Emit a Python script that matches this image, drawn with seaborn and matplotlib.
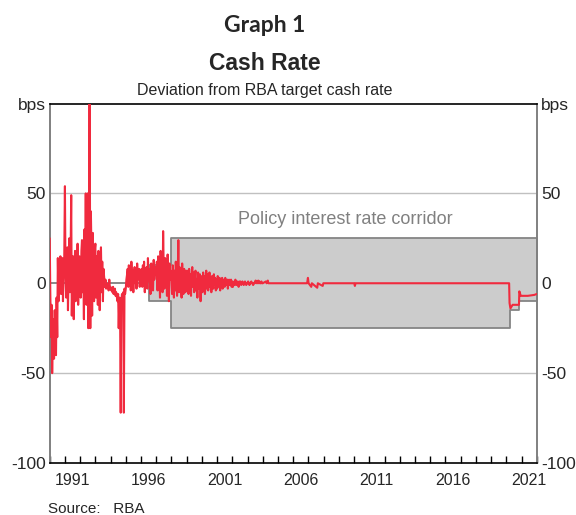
import numpy as np
import pandas as pd
import matplotlib
matplotlib.use("Agg")
import matplotlib.pyplot as plt
import matplotlib.dates as mdates
import matplotlib.ticker as mticker
import seaborn as sns

# deviation of cash rate from target (bps), semi-monthly readings 1990-2003
dev_1990 = [25, -5, -30, -12, -50, -28, -20, -42, -15, -35, -40, -8, -30, 14, -10, 12, 3, 15, -6, 8, 14, -10, 5, 12]
dev_1991 = [54, 5, -8, 12, 20, -15, 8, 25, -5, 10, 49, -18, 6, 15, -20, 3, 18, -10, 12, 0, 22, -12, 8, 15]
dev_1992 = [10, -8, 18, 24, -5, 12, -20, 30, 8, 50, -12, 20, 50, -25, 35, 130, -25, 40, 15, -18, 28, 5, -10, 18]
dev_1993 = [22, -8, 15, 5, -12, 18, 2, -15, 10, 20, -5, 12, -10, 8, 3, -2, 2, -3, 0, -2, -1, -4, 2, -3]
dev_1994 = [-2, -4, -3, -5, -2, -6, -4, -3, -7, -5, -8, -10, -6, -25, -8, -9, -72, -10, -6, -8, -5, -72, -3, -6]
dev_1995 = [-3, 2, 5, 8, -2, 10, 3, 6, -4, 12, 2, 7, -5, 4, 9, 0, 6, -3, 11, 2, 5, 8, -2, 6]
dev_1996 = [4, 8, -2, 10, 3, 12, -5, 6, 2, 9, -3, 14, 5, 1, 8, -6, 11, 3, 7, -4, 13, 2, 6, 9]
dev_1997 = [5, 12, -4, 15, 2, 8, -8, 18, 3, 10, -5, 29, 6, -3, 14, 1, 9, -7, 16, 4, -10, 11, 2, 7]
dev_1998 = [3, -6, 10, 2, -8, 7, -4, 12, 1, -7, 5, 24, -5, 9, -3, 6, -8, 11, 0, -6, 8, 3, -5, 7]
dev_1999 = [-4, 7, 2, -6, 8, -3, 5, -7, 4, 9, -2, 6, -5, 3, 7, -4, 2, -8, 6, 1, -3, 5, -10, 4]
dev_2000 = [3, -5, 6, -2, 4, -6, 2, 7, -3, 5, -4, 1, 6, -2, 3, -5, 4, 0, -3, 5, -1, 3, -4, 2]
dev_2001 = [-3, 4, 1, -2, 3, -4, 2, 0, 3, -3, 1, 2, -2, 3, -1, 0, 2, -3, 1, 2, -1, 0, 2, -2]
dev_2002 = [1, -2, 0, 1, -1, 2, 0, -1, 1, 0, -2, 1, 0, 1, -1, 0, 1, 0, -1, 0, 1, 0, -1, 0]
dev_2003 = [0, 1, 0, -1, 0, 0, 1, 0, 0, -1, 0, 0, 1, 1.5, 0, 1, 0, 1.5, 0, 1, 0, 0, 1, 0]

# later period: mostly flat, only the turning points
flat_dates = ["2004-01-01", "2004-03-15", "2004-04-01", "2004-05-01", "2004-05-15", "2004-06-01",
              "2006-12-01", "2006-12-20", "2007-01-05", "2007-03-10", "2007-03-25", "2007-08-01",
              "2007-08-15", "2007-12-10", "2007-12-25", "2010-01-05", "2010-01-20", "2010-02-05",
              "2020-03-10", "2020-03-20", "2020-04-10", "2020-06-01", "2020-11-01", "2020-11-10",
              "2020-12-15", "2021-06-01", "2021-11-01", "2021-12-31"]
flat_values = [0, 1, 0, 1.5, 0, 0,
               0, 3, 0, -2, 0, -2.5,
               0, -1.5, 0, 0, -1.5, 0,
               0, -11, -14, -12, -12, -4.5,
               -7, -7, -6.5, -6]

# policy interest rate corridor
corr_dates = ["1996-07-01", "1998-01-01", "2020-03-19", "2020-11-04", "2022-01-01"]
corr_upper = [10, 25, 25, 25, 25]
corr_lower = [-10, -25, -15, -10, -10]

label_years = [1991, 1996, 2001, 2006, 2011, 2016, 2021]

noisy = (dev_1990 + dev_1991 + dev_1992 + dev_1993 + dev_1994 + dev_1995 + dev_1996
         + dev_1997 + dev_1998 + dev_1999 + dev_2000 + dev_2001 + dev_2002 + dev_2003)
noisy_dates = pd.date_range("1990-01-01", "2003-12-31", freq="SMS")
df = pd.DataFrame({
    "date": list(noisy_dates) + list(pd.to_datetime(flat_dates)),
    "bps": noisy + flat_values,
})
corr = pd.DataFrame({"date": pd.to_datetime(corr_dates), "upper": corr_upper, "lower": corr_lower})

sns.set_style("white")
plt.rcParams["font.family"] = ["Liberation Sans", "DejaVu Sans"]

fig = plt.figure(figsize=(5.76, 5.15), dpi=100)
ax = fig.add_axes([0.0863, 0.101, 0.8455, 0.698])

ax.axhline(50, color="#c0c0c0", lw=1, zorder=1)
ax.axhline(-50, color="#c0c0c0", lw=1, zorder=1)
ax.axhline(0, color="#7f7f7f", lw=1.3, zorder=1)

ax.fill_between(corr["date"], corr["lower"], corr["upper"], step="post",
                facecolor="#cccccc", edgecolor="#858585", lw=1.3, zorder=2)

sns.lineplot(data=df, x="date", y="bps", color="#f02a3e", lw=1.5, errorbar=None,
             ax=ax, zorder=3)

ax.text(pd.Timestamp("2009-06-01"), 35.5, "Policy interest rate corridor",
        color="#808080", fontsize=13, ha="center", va="center")

ax.set_xlim(pd.Timestamp("1990-01-01"), pd.Timestamp("2022-01-01"))
ax.set_ylim(-100, 100)
ax.set_xlabel("")
ax.set_ylabel("")

ax.xaxis.set_major_locator(mdates.YearLocator(1))
ax.xaxis.set_major_formatter(mticker.NullFormatter())
ax.xaxis.set_minor_locator(mticker.FixedLocator(
    mdates.date2num([pd.Timestamp(f"{y}-07-01") for y in label_years])))
ax.xaxis.set_minor_formatter(mticker.FixedFormatter([str(y) for y in label_years]))
ax.tick_params(axis="x", which="major", direction="in", length=5, width=1,
               color="black", bottom=True, top=False)
ax.tick_params(axis="x", which="minor", length=0, pad=7, labelsize=11.5)

ax.set_yticks([-100, -50, 0, 50, 100])
ax.set_yticklabels(["-100", "-50", "0", "50", "bps"])
ax.tick_params(axis="y", length=0, labelsize=12.5, pad=3, labelleft=True, labelright=True)

for side in ["left", "right"]:
    ax.spines[side].set_color("#808080")
    ax.spines[side].set_linewidth(1.4)
for side in ["top", "bottom"]:
    ax.spines[side].set_color("black")
    ax.spines[side].set_linewidth(1.2)

fig.text(0.46, 1 - 31.5 / 515, "Graph 1", family=["Lato", "DejaVu Sans"], weight="bold",
         fontsize=16.5, ha="center", va="baseline")
fig.text(0.46, 1 - 70.5 / 515, "Cash Rate", weight="bold", fontsize=16.5,
         ha="center", va="baseline")
fig.text(0.46, 1 - 95 / 515, "Deviation from RBA target cash rate", fontsize=11.5,
         ha="center", va="baseline")
fig.text(48 / 576, 2 / 515, "Source:   RBA", fontsize=11, ha="left", va="baseline")

fig.savefig("out.png", dpi=100)
